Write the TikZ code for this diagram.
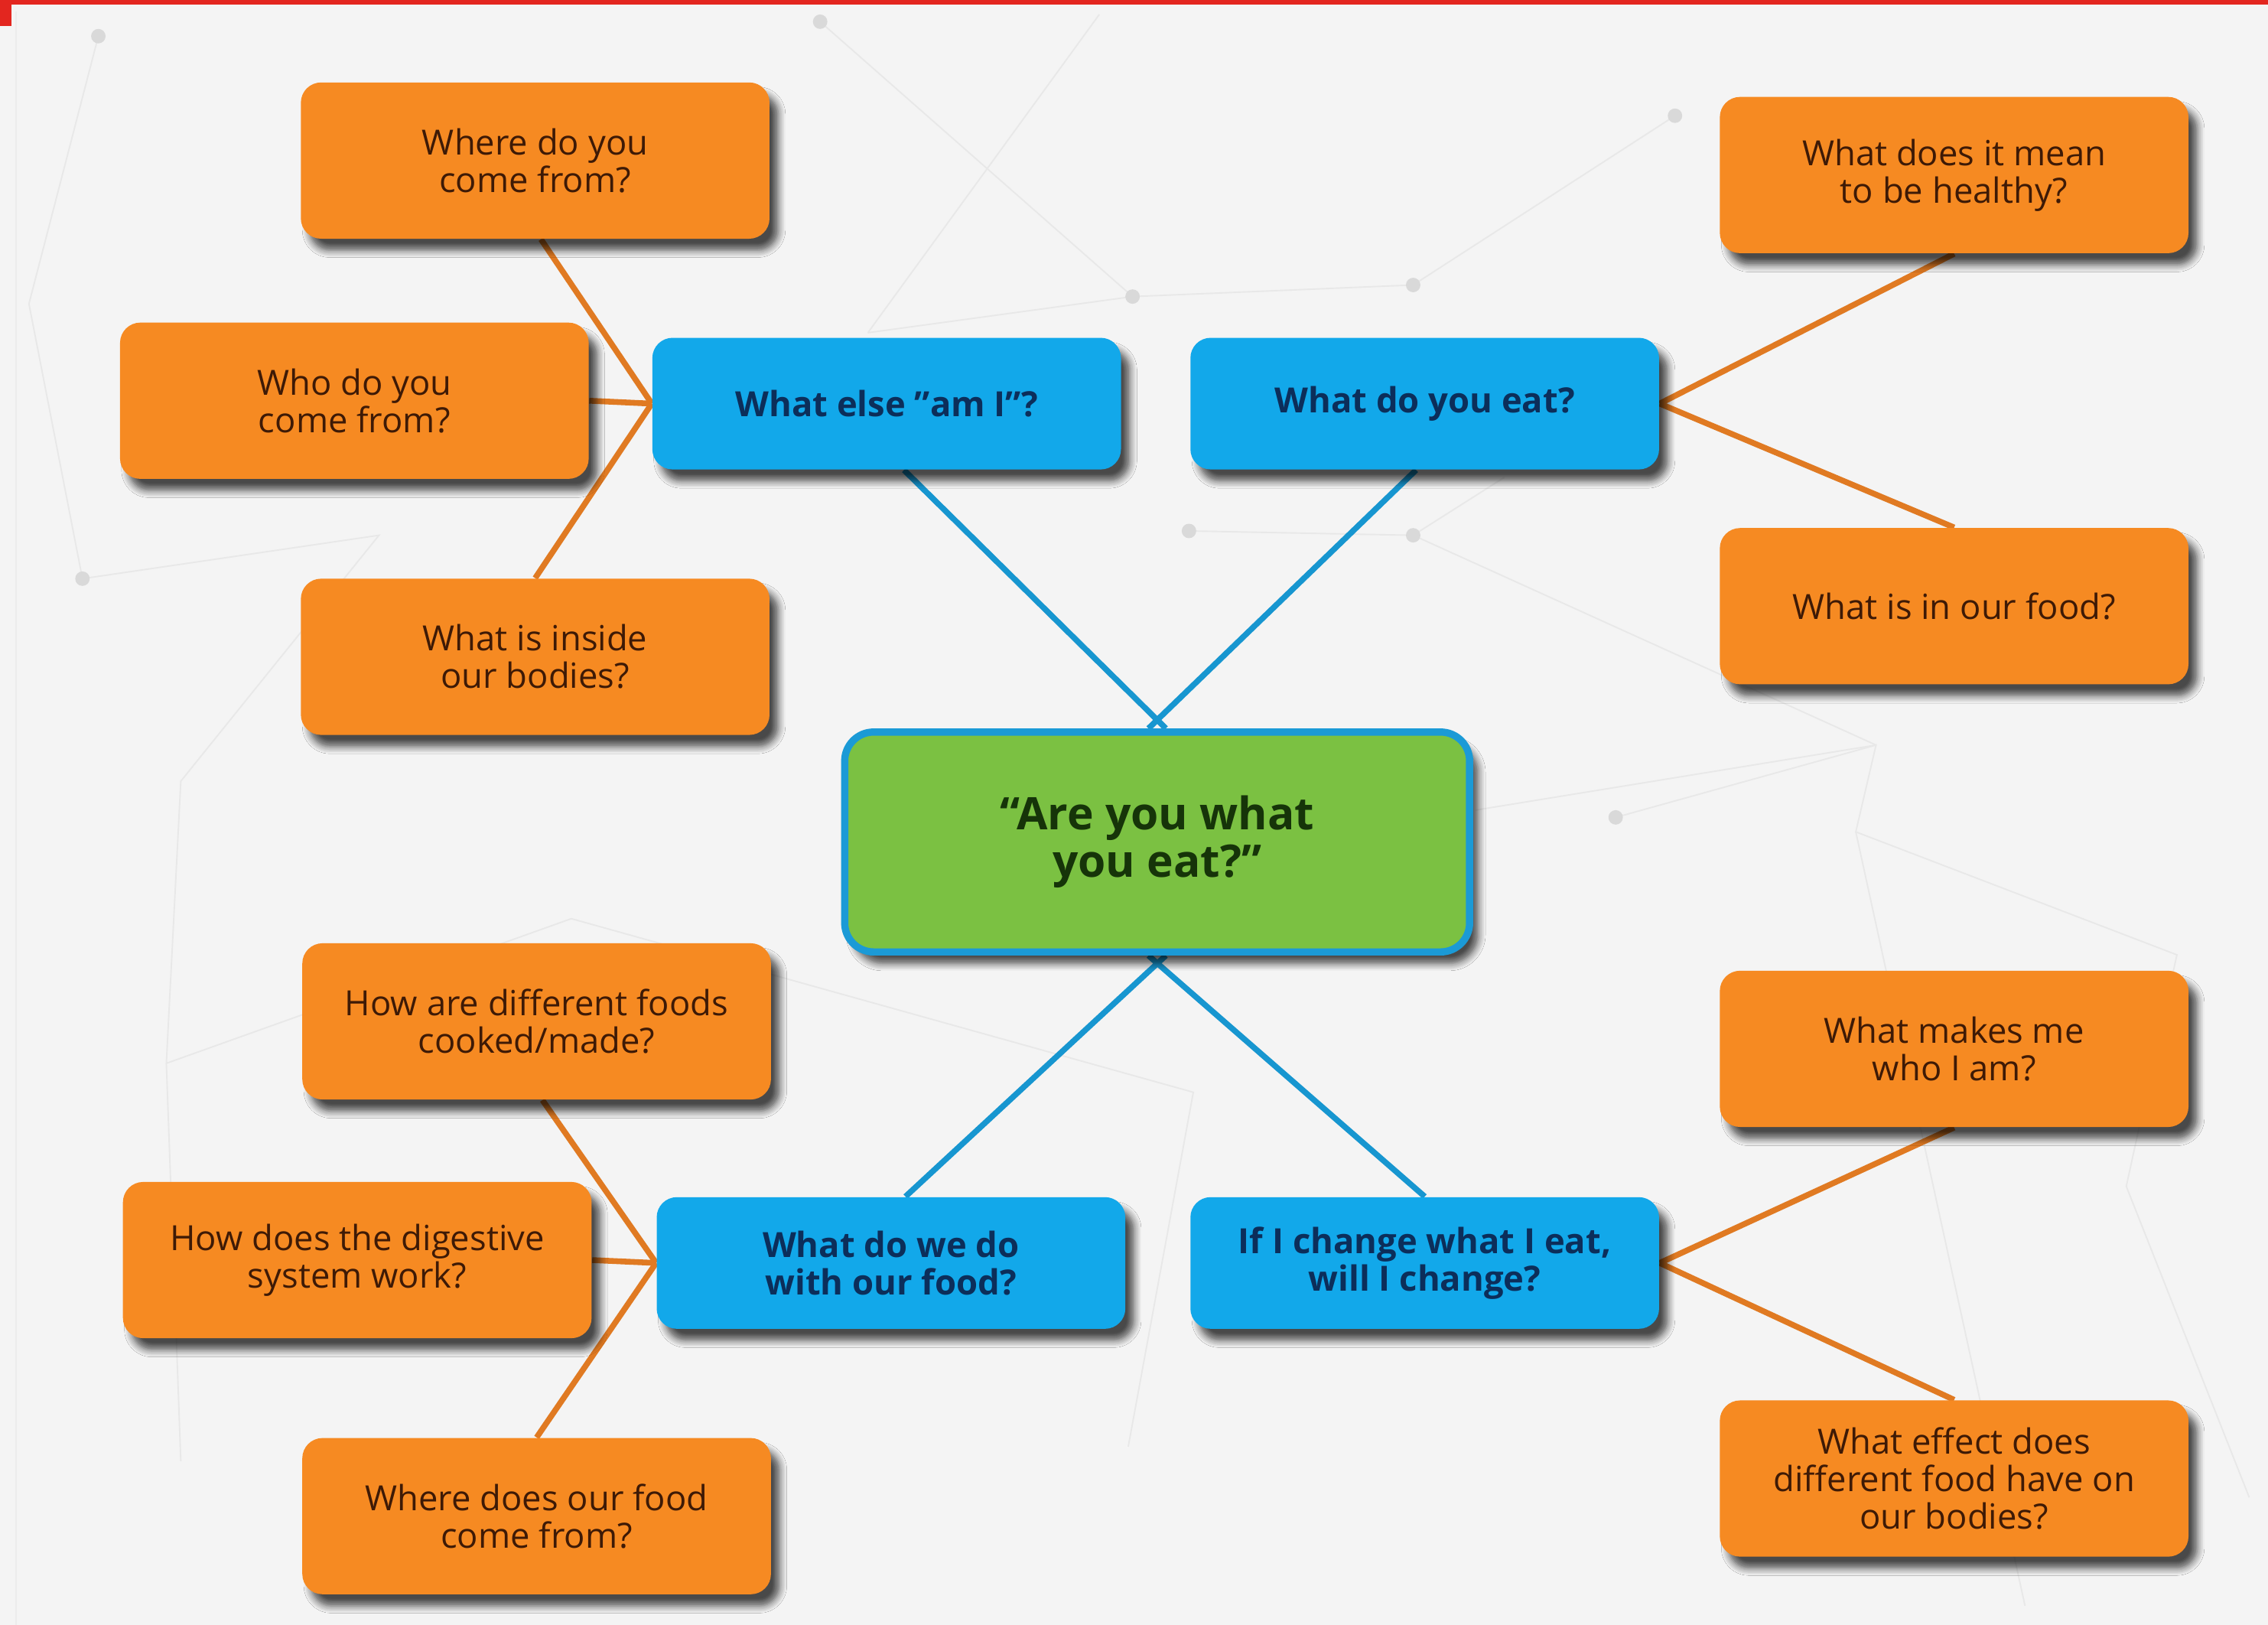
\documentclass[tikz,border=0pt]{standalone}
\usepackage{fontspec}
\setmainfont{Open Sans}
\usetikzlibrary{shadows,shadows.blur,backgrounds}
\definecolor{qorange}{HTML}{F68A22}
\definecolor{qorangetext}{HTML}{3E1A06}
\definecolor{qblue}{HTML}{12A8EA}
\definecolor{qbluetext}{HTML}{0C2E5A}
\definecolor{qgreen}{HTML}{7BC142}
\definecolor{qgreentext}{HTML}{163409}
\definecolor{qframe}{HTML}{1B9AD6}
\definecolor{orangelink}{HTML}{E07A22}
\definecolor{bluelink}{HTML}{1796D0}
\definecolor{paper}{HTML}{F4F4F4}
\definecolor{topbar}{HTML}{E3261F}

\begin{document}
\begin{tikzpicture}[x=0.5pt,y=-0.5pt,
        box/.style={rounded corners=7pt, align=center, inner sep=2pt,
          blur shadow={shadow xshift=3pt, shadow yshift=-4pt, shadow blur steps=6,
            shadow blur radius=2.5pt, shadow opacity=70}},
        subq/.style={box, fill=qorange, text=qorangetext,
          minimum width=162pt, minimum height=54pt, font=\fontsize{12}{13}\selectfont},
        topic/.style={box, fill=qblue, text=qbluetext,
          minimum width=162pt, minimum height=45.5pt, font=\fontsize{12}{13}\selectfont\bfseries},
        core/.style={box, rounded corners=10pt, fill=qgreen, draw=qframe, line width=2.5pt,
          text=qgreentext, minimum width=216pt, minimum height=76pt,
          font=\fontsize{15.5}{16.5}\selectfont\bfseries},
        olink/.style={orangelink, line width=2pt},
        blink/.style={bluelink, line width=2pt},
        web/.style={gray!18, line width=.5pt}
        ]
        \useasboundingbox (0,0) rectangle (1568,1123);

        % centre and the four topics
        \node[core]  (ctr) at (800,582)  {“Are you what\\you eat?”};
        \node[topic] (b1)  at (613,279)  {What else "am I"?};
        \node[topic] (b2)  at (985,279)  {What do you eat?};
        \node[topic] (b3)  at (616,873)  {What do we do\\with our food?};
        \node[topic] (b4)  at (985,873)  {If I change what I eat,\\will I change?};

        % questions round them
        \node[subq] (o1)  at (370,111)  {Where do you\\come from?};
        \node[subq] (o2)  at (245,277)  {Who do you\\come from?};
        \node[subq] (o3)  at (370,454)  {What is inside\\our bodies?};
        \node[subq] (o4)  at (1351,121) {What does it mean\\to be healthy?};
        \node[subq] (o5)  at (1351,419) {What is in our food?};
        \node[subq] (o6)  at (371,706)  {How are different foods\\cooked/made?};
        \node[subq] (o7)  at (247,871)  {How does the digestive\\system work?};
        \node[subq] (o8)  at (371,1048) {Where does our food\\come from?};
        \node[subq] (o9)  at (1351,725) {What makes me\\who I am?};
        \node[subq] (o10) at (1351,1022) {What effect does\\different food have on\\our bodies?};

        \begin{scope}[on background layer]
          % paper, top bar and the faint web behind
          \fill[paper] (0,0) rectangle (1568,1123);
          \fill[topbar] (0,0) rectangle (1568,3);
          \fill[topbar] (0,0) rectangle (8,18);
          \draw[gray!15] (11,8) -- (11,1123);
          \draw[web] (567,15) -- (783,205) -- (977,197) -- (1158,80)
                     (783,205) -- (600,230) (822,367) -- (977,370) -- (1040,330)
                     (68,25) -- (20,210) -- (57,400) -- (262,370) -- (125,540)
                     -- (115,735) -- (395,635) -- (825,755) -- (780,1000)
                     (115,735) -- (125,1010)
                     (1117,565) -- (1297,515) -- (1283,575) -- (1505,660)
                     -- (1470,820) -- (1555,1035)
                     (1297,515) -- (977,370) (1283,575) -- (1400,1110)
                     (760,10) -- (600,230) (1020,560) -- (1297,515);
          \foreach \p in {(68,25),(567,15),(977,197),(1158,80),(57,400),
                          (822,367),(977,370),(1117,565),(783,205)}
            \fill[gray!30] \p circle (5);

          \path[blink] ([xshift=6pt]b1.south) edge ([xshift=3pt]ctr.north)
                       ([xshift=-3pt]b2.south) edge ([xshift=-3pt]ctr.north)
                       ([xshift=5pt]b3.north) edge ([xshift=3pt]ctr.south)
                       (b4.north) edge ([xshift=-3pt]ctr.south);

          \path[olink] ([xshift=2pt]o1.south) edge (b1.west)
                       (o2.east) edge (b1.west)
                       (o3.north) edge (b1.west)
                       (b2.east) edge (o4.south)
                       (b2.east) edge (o5.north)
                       ([xshift=2pt]o6.south) edge (b3.west)
                       (o7.east) edge (b3.west)
                       (o8.north) edge (b3.west)
                       (b4.east) edge (o9.south)
                       (b4.east) edge (o10.north);
        \end{scope}
      \end{tikzpicture}
\end{document}
